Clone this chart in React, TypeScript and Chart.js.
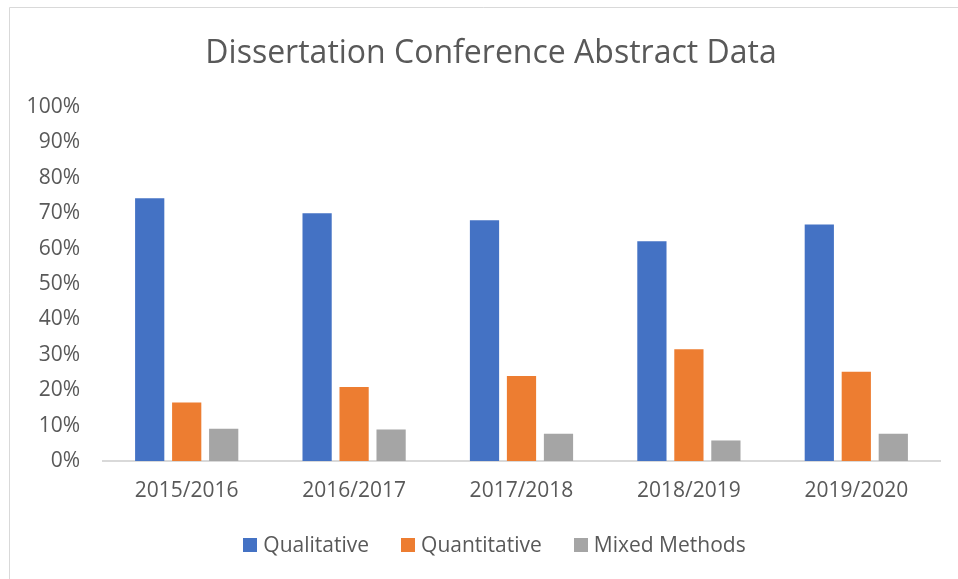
import React, { useEffect, useRef } from "react";
import { Chart, registerables } from "chart.js";

Chart.register(...registerables);

const categories = ["2015/2016", "2016/2017", "2017/2018", "2018/2019", "2019/2020"];
const qualitative = [74.2, 70.0, 68.0, 62.1, 66.8];
const quantitative = [16.5, 20.9, 24.0, 31.6, 25.2];
const mixedMethods = [9.1, 8.9, 7.7, 5.8, 7.7];
const seriesNames = ["Qualitative", "Quantitative", "Mixed Methods"];
const seriesColors = ["#4472C4", "#ED7D31", "#A5A5A5"];
const yTicks = [0, 10, 20, 30, 40, 50, 60, 70, 80, 90, 100];

const FONT = "'Open Sans', 'Noto Sans', sans-serif";
const TEXT = "#595959";

const framePlugin = {
  id: "frame",
  afterLayout(chart: any) {
    // Excel centres the title in a slightly wider frame
    if (chart.titleBlock) chart.titleBlock.left = 42;
  },
  beforeDraw(chart: any) {
    const ctx = chart.ctx;
    ctx.save();
    ctx.fillStyle = "#ffffff";
    ctx.fillRect(0, 0, chart.width, chart.height);
    ctx.strokeStyle = "#d9d9d9";
    ctx.lineWidth = 1;
    ctx.beginPath();
    ctx.moveTo(9.5, chart.height);
    ctx.lineTo(9.5, 7.5);
    ctx.lineTo(chart.width, 7.5);
    ctx.stroke();
    ctx.restore();
  },
};

// Legend drawn below the axis with Excel-like spacing
const legendPlugin = {
  id: "excelLegend",
  afterDraw(chart: any) {
    const ctx = chart.ctx;
    const box = 14;
    const gap = 6;
    const itemGap = 32;
    const centerX = 494.5;
    const centerY = 545;
    ctx.save();
    ctx.font = `21px ${FONT}`;
    const items = chart.data.datasets.map((ds: any) => ({
      label: ds.label,
      color: ds.backgroundColor,
      w: ctx.measureText(ds.label).width,
    }));
    const total =
      items.reduce((s: number, it: any) => s + box + gap + it.w, 0) + itemGap * (items.length - 1);
    let x = centerX - total / 2;
    ctx.textBaseline = "middle";
    ctx.textAlign = "left";
    for (const it of items) {
      ctx.fillStyle = it.color;
      ctx.fillRect(Math.round(x), Math.round(centerY - box / 2), box, box);
      ctx.fillStyle = TEXT;
      ctx.fillText(it.label, x + box + gap, centerY + 1);
      x += box + gap + it.w + itemGap;
    }
    ctx.restore();
  },
};

export default function App() {
  const ref = useRef<HTMLCanvasElement | null>(null);
  useEffect(() => {
    if (!ref.current) return;
    const chart = new Chart(ref.current, {
      type: "bar",
      data: {
        labels: categories,
        datasets: [
          { label: seriesNames[0], data: qualitative, backgroundColor: seriesColors[0] },
          { label: seriesNames[1], data: quantitative, backgroundColor: seriesColors[1] },
          { label: seriesNames[2], data: mixedMethods, backgroundColor: seriesColors[2] },
        ],
      },
      options: {
        animation: false,
        responsive: false,
        maintainAspectRatio: false,
        layout: { padding: { left: 0, right: 18, top: 0, bottom: 58 } },
        datasets: { bar: { categoryPercentage: 0.663, barPercentage: 0.79 } },
        plugins: {
          title: {
            display: true,
            text: "Dissertation Conference Abstract Data",
            color: TEXT,
            font: { family: FONT, size: 32, weight: "normal" },
            padding: { top: 35, bottom: 33.6 },
          },
          legend: { display: false },
          tooltip: { enabled: false },
        },
        scales: {
          x: {
            grid: { display: false, drawTicks: false },
            border: { display: true, color: "#d9d9d9", width: 2 },
            ticks: { color: TEXT, font: { family: FONT, size: 21 }, padding: 17.7, maxRotation: 0 },
            afterFit(scale: any) {
              scale.height = 60;
            },
          },
          y: {
            min: 0,
            max: 100,
            grid: { display: false, drawTicks: false },
            border: { display: false },
            afterBuildTicks(scale: any) {
              scale.ticks = yTicks.map((v) => ({ value: v }));
            },
            ticks: {
              color: TEXT,
              font: { family: FONT, size: 21 },
              padding: 23,
              callback: (v: any) => v + "%",
            },
            afterFit(scale: any) {
              scale.width = 103;
            },
          },
        },
      },
      plugins: [framePlugin, legendPlugin],
    } as any);
    return () => chart.destroy();
  }, []);
  return (
    <div style={{ position: "fixed", left: 0, top: 0, width: 958, height: 579 }}>
      <canvas ref={ref} width={958} height={579} style={{ width: 958, height: 579, display: "block" }} />
    </div>
  );
}
